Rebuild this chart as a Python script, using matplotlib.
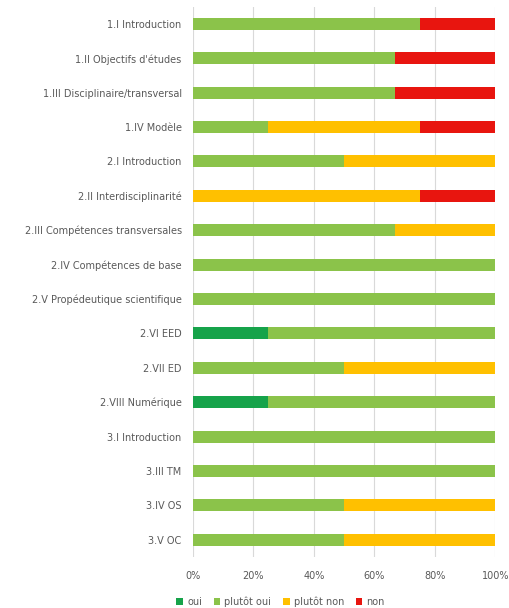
import matplotlib.pyplot as plt
import numpy as np
from matplotlib.ticker import PercentFormatter

categories = ["1.I Introduction", "1.II Objectifs d'études", "1.III Disciplinaire/transversal",
              "1.IV Modèle", "2.I Introduction", "2.II Interdisciplinarité",
              "2.III Compétences transversales", "2.IV Compétences de base",
              "2.V Propédeutique scientifique", "2.VI EED", "2.VII ED", "2.VIII Numérique",
              "3.I Introduction", "3.III TM", "3.IV OS", "3.V OC"]
oui         = [0, 0, 0, 0, 0, 0, 0, 0, 0, 25, 0, 25, 0, 0, 0, 0]
plutot_oui  = [75, 66.7, 66.7, 25, 50, 0, 66.7, 100, 100, 75, 50, 75, 100, 100, 50, 50]
plutot_non  = [0, 0, 0, 50, 50, 75, 33.3, 0, 0, 0, 50, 0, 0, 0, 50, 50]
non         = [25, 33.3, 33.3, 25, 0, 25, 0, 0, 0, 0, 0, 0, 0, 0, 0, 0]

series = [("oui", oui, "#16A34A"), ("plutôt oui", plutot_oui, "#8BC34A"),
          ("plutôt non", plutot_non, "#FFC000"), ("non", non, "#E8150F")]

fig = plt.figure(figsize=(5.1, 6.08), dpi=100)
ax = fig.add_axes([0.378, 0.084, 0.593, 0.905])

y = np.arange(len(categories))
left = np.zeros(len(categories))
for name, vals, col in series:
    vals = np.array(vals, dtype=float)
    ax.barh(y, vals, left=left, height=0.35, color=col, label=name, zorder=3)
    left += vals

ax.set_ylim(len(categories) - 0.5, -0.5)
ax.set_xlim(0, 100)
ax.set_yticks(y)
ax.set_yticklabels(categories)
ax.set_xticks(np.arange(0, 101, 20))
ax.xaxis.set_major_formatter(PercentFormatter(decimals=0))
ax.grid(axis="x", color="#D9D9D9", linewidth=0.8, zorder=0)
for s in ax.spines.values():
    s.set_visible(False)
ax.tick_params(length=0, labelsize=7, colors="#595959", pad=8)
ax.tick_params(axis="x", pad=10)

fig.legend(loc="center", bbox_to_anchor=(0.55, 0.01), ncol=4, frameon=False,
           fontsize=7, labelcolor="#595959", handlelength=0.7, handleheight=0.7,
           handletextpad=0.4, columnspacing=1.2)

fig.savefig("out.png", dpi=100)
